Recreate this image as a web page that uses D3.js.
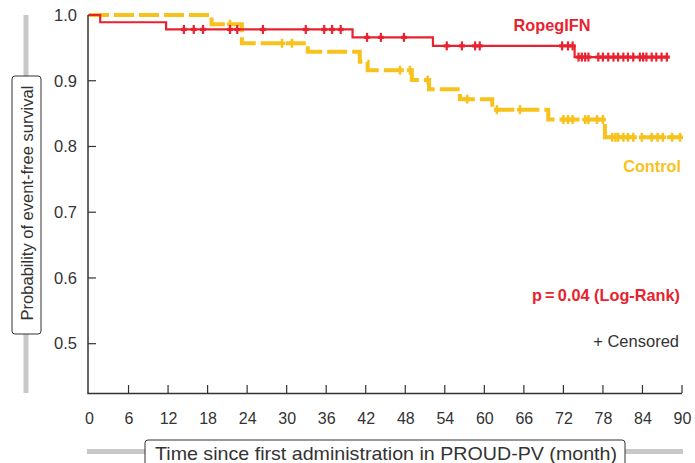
<!DOCTYPE html>
<html lang="en">
  <head>
    <meta charset="utf-8">
    <title>Event-free survival</title>
    <script src="https://cdnjs.cloudflare.com/ajax/libs/d3/7.8.5/d3.min.js"></script>
    <style>
      body { margin: 0; background: #fff; }
      text { font-family: "Liberation Sans", Arial, sans-serif; fill: #333; }
    </style>
  </head>
  <body>
    <div class="chart"></div>
    <script>
      // step points: [month, survival]
      var ropegSteps = [[0, 1.0], [1.7, 0.989], [11.7, 0.978], [40.0, 0.966], [52.2, 0.953], [73.7, 0.936], [87.7, 0.936]];
      var controlSteps = [[0, 1.0], [18.6, 0.986], [23.2, 0.957], [33.2, 0.944], [41.1, 0.929], [42.3, 0.916],
        [49.0, 0.901], [51.6, 0.887], [56.3, 0.872], [61.2, 0.856], [69.7, 0.841], [78.3, 0.814], [90.0, 0.814]];

      // censored times (months)
      var ropegCensor = [14.4, 15.9, 17.3, 21.4, 22.5, 26.4, 32.9, 35.7, 36.9, 38.2, 42.2, 44.3, 47.8,
        54.3, 56.6, 58.6, 59.3, 71.8, 72.7, 73.4, 74.3, 74.8, 75.3, 75.8, 77.3, 78.0, 78.8, 79.6, 80.3,
        81.1, 81.8, 82.6, 83.6, 84.1, 84.6, 85.4, 86.1, 86.9, 87.7];
      var controlCensor = [21.4, 29.3, 30.8, 47.2, 48.7, 51.4, 57.4, 61.9, 65.4, 72.0, 72.7, 73.4, 75.3,
        75.8, 77.1, 78.0, 79.4, 79.9, 80.3, 81.1, 81.8, 82.6, 83.9, 85.4, 86.3, 87.1, 88.5, 89.7];

      var xTicks = [0, 6, 12, 18, 24, 30, 36, 42, 48, 54, 60, 66, 72, 78, 84, 90];
      var yTicks = [0.5, 0.6, 0.7, 0.8, 0.9, 1.0];

      var svgWidth = 695;
      var svgHeight = 463;
      var red = "#e8232f";
      var gold = "#f8c21c";

      var svg = d3.select(".chart")
        .append("svg")
        .attr("width", svgWidth)
        .attr("height", svgHeight);

      var x = d3.scaleLinear().domain([0, 90]).range([89, 682]);
      var y = d3.scaleLinear().domain([0.425, 1.0]).range([393, 15]);

      // survival value at time t
      function survAt(steps, t) {
        var v = steps[0][1];
        steps.forEach(function (s) { if (s[0] <= t) v = s[1]; });
        return v;
      }

      // axes
      var bottomAxis = d3.axisBottom(x).tickValues(xTicks).tickSize(0).tickPadding(20);
      var leftAxis = d3.axisLeft(y).tickValues(yTicks).tickSize(0).tickPadding(10)
        .tickFormat(d3.format(".1f"));

      var gx = svg.append("g").attr("transform", "translate(0,393)").call(bottomAxis);
      gx.select(".domain").remove();
      gx.selectAll("text").attr("font-size", 16).attr("fill", "#333");

      var gy = svg.append("g").attr("transform", "translate(88,0)").call(leftAxis);
      gy.select(".domain").remove();
      gy.selectAll("text").attr("font-size", 16.5).attr("fill", "#333").attr("x", -11);

      // axis lines and inward ticks
      svg.append("path")
        .attr("d", "M88,15V393.5H682")
        .attr("fill", "none").attr("stroke", "#333").attr("stroke-width", 1.5);

      svg.selectAll(".xt").data(xTicks.slice(1)).enter().append("line")
        .attr("x1", d => x(d)).attr("x2", d => x(d))
        .attr("y1", 393).attr("y2", 385)
        .attr("stroke", "#333").attr("stroke-width", 1.2);

      svg.selectAll(".yt").data(yTicks).enter().append("line")
        .attr("x1", 88).attr("x2", 96)
        .attr("y1", d => y(d)).attr("y2", d => y(d))
        .attr("stroke", "#333").attr("stroke-width", 1.2);

      // curves
      var line = d3.line()
        .x(d => x(d[0]))
        .y(d => y(d[1]))
        .curve(d3.curveStepAfter);

      svg.append("path")
        .datum(controlSteps)
        .attr("d", line)
        .attr("fill", "none")
        .attr("stroke", gold)
        .attr("stroke-width", 4)
        .attr("stroke-dasharray", "20,5");

      svg.append("path")
        .datum(ropegSteps)
        .attr("d", line)
        .attr("fill", "none")
        .attr("stroke", red)
        .attr("stroke-width", 2.2);

      // censor marks
      function drawCensor(times, steps, color, w) {
        var g = svg.append("g").attr("stroke", color);
        times.forEach(function (t) {
          var cx = x(t), cy = y(survAt(steps, t));
          g.append("line").attr("x1", cx).attr("x2", cx).attr("y1", cy - 4.5).attr("y2", cy + 4.5)
            .attr("stroke-width", w);
          g.append("line").attr("x1", cx - 3).attr("x2", cx + 3).attr("y1", cy).attr("y2", cy)
            .attr("stroke-width", w + 1);
        });
      }
      drawCensor(controlCensor, controlSteps, gold, 2.5);
      drawCensor(ropegCensor, ropegSteps, red, 2.2);

      // annotations
      svg.append("text").attr("x", 552).attr("y", 31).attr("text-anchor", "middle")
        .attr("font-size", 16.3).attr("font-weight", "bold").style("fill", red).text("RopegIFN");
      svg.append("text").attr("x", 681).attr("y", 172).attr("text-anchor", "end")
        .attr("font-size", 16.3).attr("font-weight", "bold").style("fill", gold).text("Control");
      svg.append("text").attr("x", 680).attr("y", 301).attr("text-anchor", "end")
        .attr("font-size", 16.3).attr("font-weight", "bold").style("fill", red).text("p\u2009=\u20090.04 (Log-Rank)");
      svg.append("text").attr("x", 679).attr("y", 347).attr("text-anchor", "end")
        .attr("font-size", 16.5).text("+ Censored");

      // y label with grey guide bar
      svg.append("rect").attr("x", 23.5).attr("y", 15).attr("width", 5).attr("height", 378).attr("fill", "#c8c8c8");
      svg.append("rect").attr("x", 12).attr("y", 76).attr("width", 29).attr("height", 258).attr("rx", 3)
        .attr("fill", "#fff").attr("stroke", "#333").attr("stroke-width", 1);
      svg.append("text")
        .attr("transform", "translate(32.5,203) rotate(-90)")
        .attr("text-anchor", "middle")
        .attr("font-size", 16.5)
        .text("Probability of event-free survival");

      // x label with grey guide bar
      svg.append("rect").attr("x", 87).attr("y", 449).attr("width", 596).attr("height", 5).attr("fill", "#c8c8c8");
      svg.append("rect").attr("x", 145).attr("y", 440).attr("width", 480).attr("height", 40).attr("rx", 3)
        .attr("fill", "#fff").attr("stroke", "#333").attr("stroke-width", 1);
      svg.append("text")
        .attr("x", 155).attr("y", 460)
        .attr("font-size", 18.5)
        .attr("textLength", 462)
        .attr("lengthAdjust", "spacingAndGlyphs")
        .text("Time since first administration in PROUD-PV (month)");
    </script>
  </body>
</html>
